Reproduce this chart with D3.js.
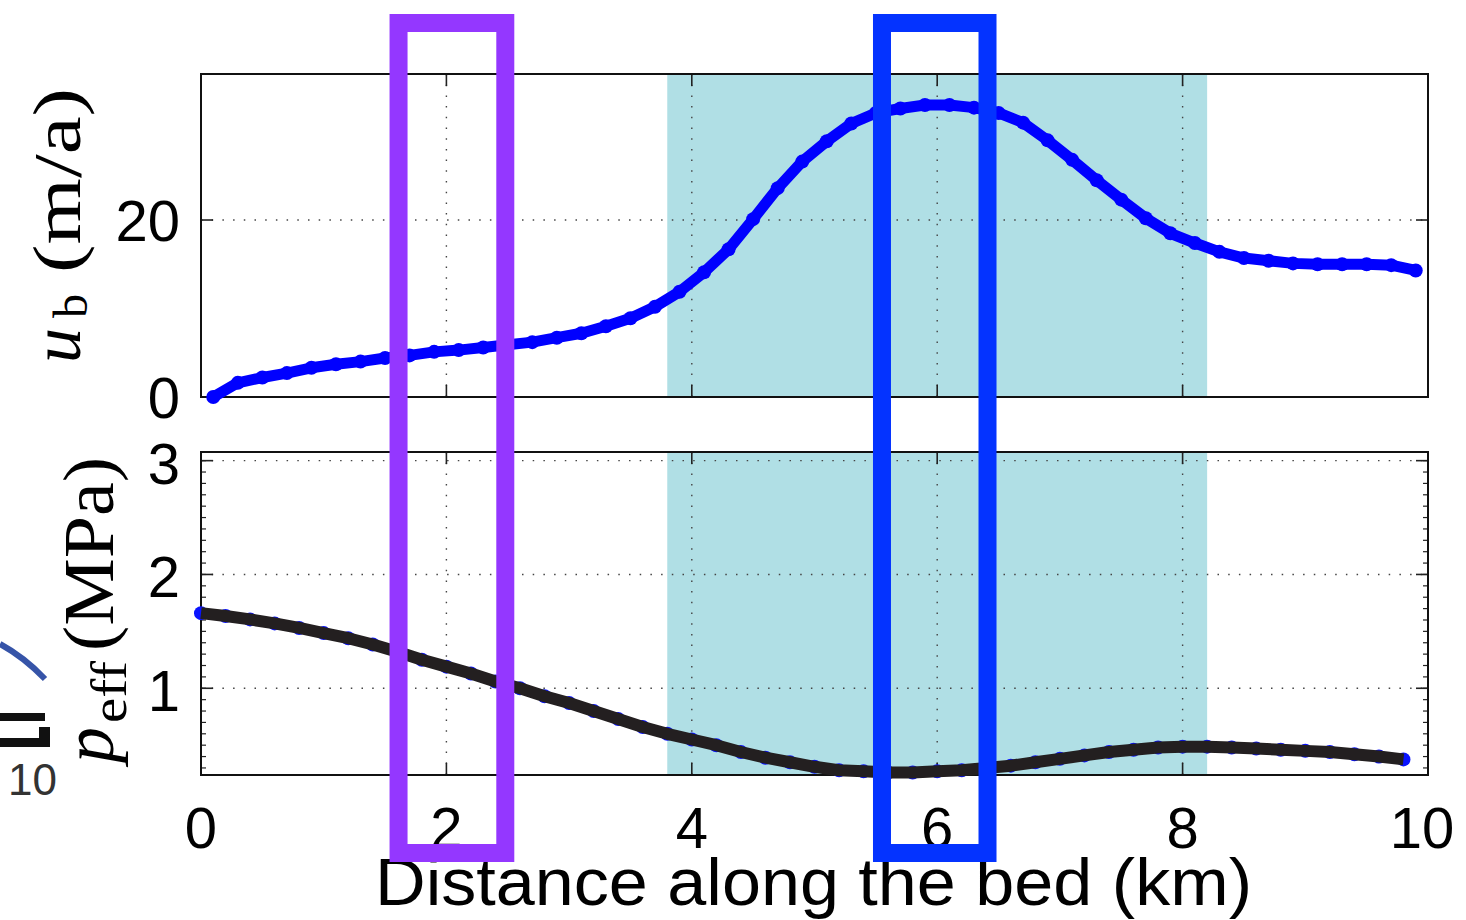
<!DOCTYPE html>
<html>
<head>
<meta charset="utf-8">
<script src="https://cdnjs.cloudflare.com/ajax/libs/d3/7.8.5/d3.min.js"></script>
<style>
  body { margin: 0; background: #fff; }
  svg { display: block; }
</style>
</head>
<body>
<div class="chart"></div>
<script>
// sampling positions along the bed (km)
const topDistance = [0.1, 0.3, 0.5, 0.7, 0.9, 1.1, 1.3, 1.5, 1.7, 1.9,
  2.1, 2.3, 2.5, 2.7, 2.9, 3.1, 3.3, 3.5, 3.7, 3.9,
  4.1, 4.3, 4.5, 4.7, 4.9, 5.1, 5.3, 5.5, 5.7, 5.9,
  6.1, 6.3, 6.5, 6.7, 6.9, 7.1, 7.3, 7.5, 7.7, 7.9,
  8.1, 8.3, 8.5, 8.7, 8.9, 9.1, 9.3, 9.5, 9.7, 9.9];
// basal velocity u_b (m/a)
const basalVelocity = [0.0, 1.6, 2.2, 2.7, 3.3, 3.7, 4.0, 4.4, 4.7, 5.1,
  5.3, 5.6, 5.9, 6.2, 6.7, 7.2, 8.0, 8.9, 10.2, 11.9,
  14.1, 16.7, 20.1, 23.6, 26.6, 28.9, 30.9, 32.1, 32.6, 33.0,
  33.0, 32.7, 32.1, 31.0, 29.0, 26.8, 24.5, 22.3, 20.2, 18.5,
  17.4, 16.4, 15.7, 15.4, 15.1, 15.0, 15.0, 15.0, 14.9, 14.3];

const bottomDistance = [0.0, 0.2, 0.4, 0.6, 0.8, 1.0, 1.2, 1.4, 1.6, 1.8,
  2.0, 2.2, 2.4, 2.6, 2.8, 3.0, 3.2, 3.4, 3.6, 3.8,
  4.0, 4.2, 4.4, 4.6, 4.8, 5.0, 5.2, 5.4, 5.6, 5.8,
  6.0, 6.2, 6.4, 6.6, 6.8, 7.0, 7.2, 7.4, 7.6, 7.8,
  8.0, 8.2, 8.4, 8.6, 8.8, 9.0, 9.2, 9.4, 9.6, 9.8];
// effective pressure p_eff (MPa)
const effPressure = [1.66, 1.635, 1.605, 1.57, 1.53, 1.485, 1.44, 1.385, 1.32, 1.25,
  1.19, 1.13, 1.06, 1.00, 0.93, 0.87, 0.80, 0.73, 0.66, 0.60,
  0.55, 0.50, 0.44, 0.39, 0.35, 0.31, 0.28, 0.27, 0.26, 0.26,
  0.27, 0.28, 0.30, 0.32, 0.35, 0.38, 0.41, 0.44, 0.46, 0.48,
  0.487, 0.487, 0.48, 0.47, 0.46, 0.45, 0.44, 0.42, 0.40, 0.375];

const xTicks = [0, 2, 4, 6, 8, 10];
const topYTicks = [0, 20];
const bottomYTicks = [1, 2, 3];
const shadedZone = [3.8, 8.2];          // km
const purpleBox = [1.61, 2.48];        // km
const blueBox = [5.55, 6.41];          // km

const width = 1466;
const height = 920;
const left = 201, right = 1428;

const svg = d3.select('.chart')
  .append('svg')
  .attr('width', width)
  .attr('height', height)
  .attr('viewBox', '0 0 ' + width + ' ' + height);

svg.append('rect').attr('width', width).attr('height', height).attr('fill', '#fff');

let xScale = d3.scaleLinear().domain([0, 10]).range([left, right]);
let yTop = d3.scaleLinear().domain([0, 36.5]).range([397, 74]);
let yBot = d3.scaleLinear().domain([0.238, 3.076]).range([775, 452]);

const tickFont = 'Liberation Sans, Arial, Helvetica, sans-serif';
const mathFont = 'Liberation Serif, Times New Roman, serif';

function drawPanel(yScale, yTicks, minorStep, labelDy) {
  let [y0, y1] = yScale.range();
  let g = svg.append('g');

  // shaded zone
  g.append('rect')
    .attr('x', xScale(shadedZone[0]))
    .attr('y', y1)
    .attr('width', xScale(shadedZone[1]) - xScale(shadedZone[0]))
    .attr('height', y0 - y1)
    .attr('fill', '#b0dfe5');

  // dotted grid
  let grid = g.append('g')
    .attr('stroke', '#444')
    .attr('stroke-width', 1.4)
    .attr('stroke-dasharray', '1.5,9.2');
  grid.selectAll('.vg')
    .data(xTicks.slice(1, -1))
    .enter().append('line')
    .attr('x1', d => xScale(d)).attr('x2', d => xScale(d))
    .attr('y1', y1).attr('y2', y0);
  grid.selectAll('.hg')
    .data(yTicks.filter(d => yScale(d) < y0 - 1))
    .enter().append('line')
    .attr('x1', left).attr('x2', right)
    .attr('y1', d => yScale(d)).attr('y2', d => yScale(d));

  // ticks
  let ticks = g.append('g').attr('stroke', '#222').attr('stroke-width', 1.6);
  xTicks.slice(1, -1).forEach(function(t) {
    ticks.append('line').attr('x1', xScale(t)).attr('x2', xScale(t)).attr('y1', y0).attr('y2', y0 - 12);
    ticks.append('line').attr('x1', xScale(t)).attr('x2', xScale(t)).attr('y1', y1).attr('y2', y1 + 12);
  });
  yTicks.forEach(function(t) {
    ticks.append('line').attr('x1', left).attr('x2', left + 12).attr('y1', yScale(t)).attr('y2', yScale(t));
    ticks.append('line').attr('x1', right).attr('x2', right - 12).attr('y1', yScale(t)).attr('y2', yScale(t));
  });
  if (minorStep) {
    let d = yScale.domain();
    let minor = d3.range(Math.ceil(d[0] / minorStep) * minorStep, d[1], minorStep);
    minor.forEach(function(t) {
      ticks.append('line').attr('x1', left).attr('x2', left + 5).attr('y1', yScale(t)).attr('y2', yScale(t)).attr('stroke-width', 1.2);
      ticks.append('line').attr('x1', right).attr('x2', right - 5).attr('y1', yScale(t)).attr('y2', yScale(t)).attr('stroke-width', 1.2);
    });
  }

  // frame
  g.append('rect')
    .attr('x', left).attr('y', y1)
    .attr('width', right - left).attr('height', y0 - y1)
    .attr('fill', 'none').attr('stroke', '#111').attr('stroke-width', 2);

  // y tick labels
  g.selectAll('.ylab')
    .data(yTicks)
    .enter().append('text')
    .attr('x', 180)
    .attr('y', d => yScale(d) + labelDy)
    .attr('text-anchor', 'end')
    .attr('font-family', tickFont)
    .attr('font-size', 58)
    .text(d => d);

  return g;
}

let gTop = drawPanel(yTop, topYTicks, null, 21);
let gBot = drawPanel(yBot, bottomYTicks, 0.1, 23);

// top curve: basal velocity
let topPts = topDistance.map((d, i) => [d, basalVelocity[i]]);
let lineTop = d3.line().x(d => xScale(d[0])).y(d => yTop(d[1])).curve(d3.curveLinear);
gTop.append('path')
  .datum(topPts)
  .attr('d', lineTop)
  .attr('fill', 'none')
  .attr('stroke', '#0000ff')
  .attr('stroke-width', 11)
  .attr('stroke-linejoin', 'round');
gTop.selectAll('.mk')
  .data(topPts)
  .enter().append('circle')
  .attr('cx', d => xScale(d[0]))
  .attr('cy', d => yTop(d[1]))
  .attr('r', 7)
  .attr('fill', '#0000ff');

// bottom curve: effective pressure
let botPts = bottomDistance.map((d, i) => [d, effPressure[i]]);
let lineBot = d3.line().x(d => xScale(d[0])).y(d => yBot(d[1]));
gBot.selectAll('.mk')
  .data(botPts)
  .enter().append('circle')
  .attr('cx', d => xScale(d[0]))
  .attr('cy', d => yBot(d[1]))
  .attr('r', 7)
  .attr('fill', '#0a14ff');
gBot.append('path')
  .datum(botPts)
  .attr('d', lineBot)
  .attr('fill', 'none')
  .attr('stroke', '#231f20')
  .attr('stroke-width', 12)
  .attr('stroke-linejoin', 'round');

// x tick labels
svg.selectAll('.xlab')
  .data(xTicks)
  .enter().append('text')
  .attr('x', d => xScale(d) - (d === 10 ? 6 : 0))
  .attr('y', 848)
  .attr('text-anchor', 'middle')
  .attr('font-family', tickFont)
  .attr('font-size', 58)
  .text(d => d);

// x axis title
svg.append('text')
  .attr('x', 375)
  .attr('y', 905)
  .attr('font-family', tickFont)
  .attr('font-size', 66)
  .attr('textLength', 877)
  .attr('lengthAdjust', 'spacingAndGlyphs')
  .text('Distance along the bed (km)');

// y axis titles (rotated)
let lt = svg.append('g')
  .attr('transform', 'translate(80,365) rotate(-90)')
  .attr('font-family', mathFont)
  .attr('fill', '#000');
lt.append('text').attr('x', 2).attr('y', 0).attr('font-size', 70).attr('font-style', 'italic').text('u');
lt.append('text').attr('x', 47).attr('y', 7).attr('font-size', 48).text('b');
lt.append('text').attr('x', 92).attr('y', 0).attr('font-size', 68)
  .attr('textLength', 185).attr('lengthAdjust', 'spacingAndGlyphs').text('(m/a)');

let lb = svg.append('g')
  .attr('transform', 'translate(113,763) rotate(-90)')
  .attr('font-family', mathFont)
  .attr('fill', '#000');
lb.append('text').attr('x', 0).attr('y', 0).attr('font-size', 72).attr('font-style', 'italic').text('p');
lb.append('text').attr('x', 40).attr('y', 13).attr('font-size', 50)
  .attr('textLength', 62).attr('lengthAdjust', 'spacingAndGlyphs').text('eff');
lb.append('text').attr('x', 112).attr('y', 0).attr('font-size', 72)
  .attr('textLength', 194).attr('lengthAdjust', 'spacingAndGlyphs').text('(MPa)');

// remnants of the neighbouring figure at the left edge
svg.append('path')
  .attr('d', 'M0,644 Q24,657 45,679')
  .attr('fill', 'none').attr('stroke', '#3654a8').attr('stroke-width', 6);
svg.append('path')
  .attr('d', 'M0,713 H45 V721 H0 Z M0,738 H39 V727 H50 V747 H0 Z')
  .attr('fill', '#111');
svg.append('text')
  .attr('x', 8).attr('y', 795)
  .attr('font-family', tickFont)
  .attr('font-size', 44)
  .attr('fill', '#333')
  .text('10');

// highlight boxes
[[purpleBox, '#9437ff'], [blueBox, '#0433ff']].forEach(function(b) {
  svg.append('rect')
    .attr('x', xScale(b[0][0]))
    .attr('y', 23)
    .attr('width', xScale(b[0][1]) - xScale(b[0][0]))
    .attr('height', 830)
    .attr('fill', 'none')
    .attr('stroke', b[1])
    .attr('stroke-width', 18);
});
</script>
</body>
</html>
